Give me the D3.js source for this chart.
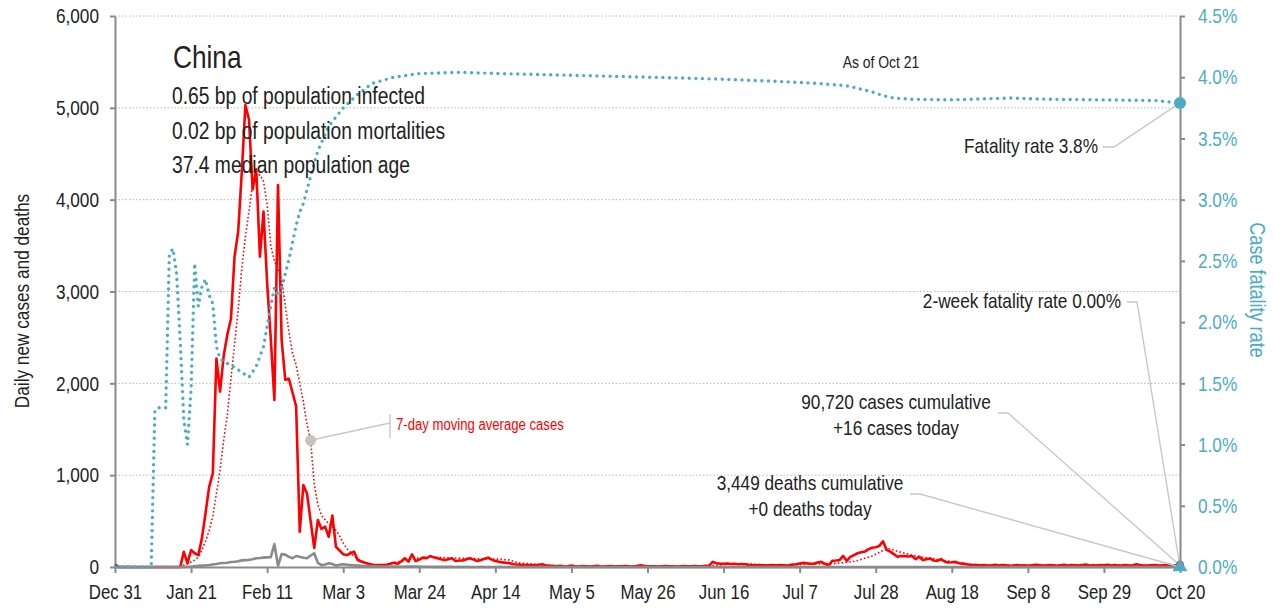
<!DOCTYPE html>
<html>
<head>
<meta charset="utf-8">
<script src="https://cdn.jsdelivr.net/npm/d3@7"></script>
<style>
body { margin: 0; background: #fff; }
svg text { fill: #222; }
</style>
</head>
<body>
<script>
var W = 1274, H = 610;
var margin = {top: 16, right: 94, bottom: 43, left: 115};
var FONT = '"Liberation Sans", Arial, sans-serif';
var NARROW = 0.82; // squeeze glyphs to a narrow face
var blue = "#4bacc6", red = "#ff0000", gray = "#8a8a8a", leaderGray = "#c8c8c8";

// daily new cases, one value per day from Dec 31 (day 0) to Oct 20 (day 294)
var dailyCases = [
  27,0,0,0,0,0,0,0,0,0,
  0,0,0,0,0,0,0,0,0,165,
  40,185,150,130,315,590,875,1020,2270,1910,
  2300,2530,2700,3380,3650,4300,5030,4870,4110,4330,
  3380,3870,3090,2490,1820,4160,2470,2040,2050,1900,
  1750,385,893,800,500,207,512,414,440,330,
  560,220,180,138,130,150,167,76,60,47,
  35,25,20,20,22,25,35,47,35,60,
  95,58,138,65,80,102,95,120,105,95,
  85,76,85,95,65,70,70,85,95,80,
  65,75,90,102,80,65,58,50,47,40,
  30,28,25,22,20,20,18,25,30,15,
  12,10,8,12,6,9,15,7,5,10,
  8,6,9,12,7,5,8,10,6,9,
  7,11,8,6,10,18,12,8,7,9,
  6,8,10,7,9,6,8,11,7,8,
  10,7,9,12,15,56,40,37,35,38,
  33,35,30,32,30,22,20,18,20,19,
  17,20,18,19,21,17,19,26,30,38,
  45,40,35,37,48,56,35,19,67,70,
  75,120,67,110,130,150,160,168,195,210,
  216,230,280,187,168,140,112,120,118,115,
  120,86,112,75,85,93,70,67,86,60,
  49,52,56,40,37,30,25,22,20,18,
  22,16,19,25,15,20,18,14,17,22,
  16,19,12,18,25,20,15,17,21,18,
  14,19,23,16,20,18,15,22,28,17,
  19,16,21,18,24,15,20,17,19,22,
  16,18,30,20,17,15,19,21,18,16,
  20,25,17,19,16
];

// daily new deaths, same days
var dailyDeaths = [
  0,0,0,0,0,0,0,0,0,0,
  0,0,0,0,0,0,0,0,0,0,
  2,4,8,12,15,18,22,28,33,40,
  43,46,55,58,63,72,75,78,85,95,
  98,102,105,108,250,12,140,135,110,95,
  120,112,100,95,125,150,45,20,28,40,
  32,15,25,30,25,20,18,15,12,10,
  10,8,8,6,5,4,6,5,5,3,
  4,4,6,5,4,3,2,2,1,1,
  2,1,1,1,0,1,0,1,0,0,
  0,1,0,0,0,0,1,0,0,0,
  0,0,0,0,0,0,0,0,0,0,
  0,0,0,0,0,0,0,0,0,0,
  0,0,0,0,0,0,0,0,0,0,
  0,0,0,0,0,0,0,0,0,0,
  0,0,0,0,0,0,0,0,0,0,
  0,0,0,0,0,0,0,0,0,0,
  0,0,0,0,0,0,0,0,0,0,
  0,0,0,0,0,0,0,0,0,0,
  0,0,0,0,0,0,0,0,0,0,
  0,0,0,0,0,0,0,0,0,0,
  0,0,0,0,0,0,0,0,0,0,
  0,0,0,0,0,0,0,0,0,0,
  0,0,0,0,0,0,0,0,0,0,
  0,0,0,0,0,0,0,0,0,0,
  0,0,0,0,0,0,0,0,0,0,
  0,0,0,0,0,0,0,0,0,0,
  0,0,0,0,0,0,0,0,0,0,
  0,0,0,0,0,0,0,0,0,0,
  0,0,0,0,0
];

// 7-day moving average of cases, read at these day offsets
var maDays = [0,6,7,18,19,20,21,22,23,24,25,26,27,28,29,30,31,32,33,34,35,36,37,38,39,40,41,42,43,44,45,46,47,48,49,50,
  51,52,53,54,55,56,57,58,59,60,61,62,63,64,65,66,67,68,69,70,72,75,78,81,84,87,92,97,101,106,109,111,115,120,124,
  164,165,170,175,180,186,190,198,203,205,209,212,214,216,220,223,226,229,232,236,242,294];
var maValues = [4,4,0,0,20,35,55,75,110,185,280,400,550,800,1050,1380,1650,2050,2420,2800,3250,3600,3880,4180,4250,4270,4200,3950,3500,3330,3250,3120,2850,2560,2330,2200,
  2000,1800,1550,1380,900,680,560,515,470,440,400,340,260,200,160,115,90,65,42,35,22,30,55,84,100,110,100,95,90,85,76,47,33,20,10,
  10,15,32,33,22,20,30,35,55,70,120,180,200,170,130,105,90,70,50,30,18,18];

// case fatality rate (%), read at these day offsets
var cfrDays = [0,10,11,12,14,15,16,17,18,19,20,21,22,23,24,25,26,27,28,29,30,33,37,39,41,43,44,45,46,48,50,51,52,54,56,59,63,67,71,77,84,95,106,134,161,180,194,202,205,209,212,215,220,230,247,258,272,287,294];
var cfrValues = [0,0,1.28,1.30,1.30,2.55,2.60,2.40,1.85,1.20,1.00,1.45,2.48,2.13,2.29,2.35,2.22,2.15,1.80,1.70,1.68,1.63,1.55,1.64,1.80,2.13,2.28,2.21,2.28,2.51,2.79,2.90,2.97,3.19,3.40,3.60,3.75,3.86,3.95,4.00,4.03,4.04,4.03,4.01,3.99,3.97,3.95,3.93,3.91,3.88,3.85,3.83,3.82,3.815,3.83,3.82,3.815,3.81,3.79];

var leftTicks = [0, 1000, 2000, 3000, 4000, 5000, 6000];
var rightTicks = [0, 0.5, 1.0, 1.5, 2.0, 2.5, 3.0, 3.5, 4.0, 4.5];
var xTickLabels = ["Dec 31","Jan 21","Feb 11","Mar 3","Mar 24","Apr 14","May 5","May 26","Jun 16","Jul 7","Jul 28","Aug 18","Sep 8","Sep 29","Oct 20"];

var countryName = "China";
var statLines = ["0.65 bp of population infected", "0.02 bp of population mortalities", "37.4 median population age"];
var asOfText = "As of Oct 21";
var cumulativeCases = 90720, casesToday = 16;
var cumulativeDeaths = 3449, deathsToday = 0;
var twoWeekRate = 0.00;

var startDate = new Date(Date.UTC(2019, 11, 31));
function dayDate(i) { return d3.utcDay.offset(startDate, i); }
var lastDay = dailyCases.length - 1;

var xScale = d3.scaleUtc().domain([startDate, dayDate(lastDay)]).range([margin.left, W - margin.right]);
var yScale = d3.scaleLinear().domain([0, 6000]).range([H - margin.bottom, margin.top]);
var cfrScale = d3.scaleLinear().domain([0, 4.5]).range([H - margin.bottom, margin.top]);

var svg = d3.select("body").append("svg")
    .attr("width", W).attr("height", H)
    .style("font-family", FONT);

// grid
svg.append("g").selectAll("line")
    .data(leftTicks.slice(1))
    .enter().append("line")
    .attr("x1", margin.left).attr("x2", W - margin.right)
    .attr("y1", d => yScale(d)).attr("y2", d => yScale(d))
    .attr("stroke", "#b8b8b8").attr("stroke-width", 1)
    .attr("stroke-dasharray", "1.5,2");

// axes
function styleAxis(g, color, size) {
    g.attr("font-family", FONT).attr("font-size", size);
    g.select(".domain").attr("stroke", gray).attr("stroke-width", 2);
    g.selectAll(".tick line").attr("stroke", gray).attr("stroke-width", 2);
    g.selectAll(".tick text").style("fill", color);
}

var gx = svg.append("g")
    .attr("transform", "translate(0," + (H - margin.bottom) + ")")
    .call(d3.axisBottom(xScale)
        .tickValues(xTickLabels.map((d, i) => dayDate(i * 21)))
        .tickFormat((d, i) => xTickLabels[i])
        .tickSize(6).tickSizeOuter(0).tickPadding(11));
styleAxis(gx, "#222", 20.5);

var gy = svg.append("g")
    .attr("transform", "translate(" + margin.left + ",0)")
    .call(d3.axisLeft(yScale).tickValues(leftTicks).tickFormat(d3.format(","))
        .tickSize(5).tickSizeOuter(0).tickPadding(11));
styleAxis(gy, "#222", 21);

var gr = svg.append("g")
    .attr("transform", "translate(" + (W - margin.right) + ",0)")
    .call(d3.axisRight(cfrScale).tickValues(rightTicks).tickFormat(d => d.toFixed(1) + "%")
        .tickSize(5).tickSizeOuter(0).tickPadding(13));
styleAxis(gr, blue, 21);

svg.append("text")
    .attr("transform", "translate(29," + 301 + ") rotate(-90)")
    .attr("text-anchor", "middle")
    .attr("font-size", 21)
    .text("Daily new cases and deaths");

svg.append("text")
    .attr("transform", "translate(1250,290) rotate(90)")
    .attr("text-anchor", "middle")
    .attr("font-size", 22)
    .style("fill", blue)
    .text("Case fatality rate");

// series
var maLine = d3.line().x(d => xScale(dayDate(d[0]))).y(d => yScale(d[1]));
svg.append("path")
    .datum(d3.zip(maDays, maValues))
    .attr("fill", "none").attr("stroke", red).attr("stroke-width", 1.6)
    .attr("stroke-dasharray", "1.6,2.2")
    .attr("d", maLine);

var dailyLine = d3.line().x((d, i) => xScale(dayDate(i))).y(d => yScale(d));
svg.append("path")
    .datum(dailyCases)
    .attr("fill", "none").attr("stroke", red).attr("stroke-width", 2.6)
    .attr("stroke-linejoin", "round")
    .attr("d", dailyLine);

svg.append("path")
    .datum(dailyDeaths)
    .attr("fill", "none").attr("stroke", gray).attr("stroke-width", 2.6)
    .attr("stroke-linejoin", "round")
    .attr("d", dailyLine);

var cfrLine = d3.line().x(d => xScale(dayDate(d[0]))).y(d => cfrScale(d[1]));
svg.append("path")
    .datum(d3.zip(cfrDays, cfrValues))
    .attr("fill", "none").attr("stroke", blue).attr("stroke-width", 3.4)
    .attr("stroke-linecap", "round")
    .attr("stroke-dasharray", "0,6.6")
    .attr("d", cfrLine);

// title block
svg.append("text").attr("x", 173).attr("y", 68).attr("font-size", 32).text(countryName);
svg.append("g").selectAll("text")
    .data(statLines)
    .enter().append("text")
    .attr("x", 172).attr("y", (d, i) => 104 + i * 34.5)
    .attr("font-size", 23.5)
    .text(d => d);

svg.append("text").attr("x", 881).attr("y", 68)
    .attr("text-anchor", "middle").attr("font-size", 17).text(asOfText);

// annotations
var xEnd = xScale(dayDate(lastDay));
var yEndCfr = cfrScale(cfrValues[cfrValues.length - 1]);
var fmt = d3.format(",");

function leader(points) {
    svg.append("path")
        .attr("d", d3.line()(points))
        .attr("fill", "none").attr("stroke", leaderGray).attr("stroke-width", 1.4);
}

// 7-day label
var maIdx = maDays.indexOf(54);
var maPt = [xScale(dayDate(54)), yScale(maValues[maIdx])];
leader([maPt, [390, 423]]);
leader([[390, 414], [390, 438]]);
svg.append("circle").attr("cx", maPt[0]).attr("cy", maPt[1]).attr("r", 5.5).attr("fill", "#c4c4c4");
svg.append("text").attr("x", 396).attr("y", 430).attr("font-size", 16)
    .style("fill", red).text("7-day moving average cases");

// fatality rate
leader([[1103, 147], [1114, 147], [xEnd, yEndCfr]]);
svg.append("text").attr("x", 1098).attr("y", 153).attr("text-anchor", "end")
    .attr("font-size", 21).text("Fatality rate " + cfrValues[cfrValues.length - 1].toFixed(1) + "%");

// 2-week rate
leader([[1127, 302], [1137, 302], [xEnd, cfrScale(twoWeekRate)]]);
svg.append("text").attr("x", 1121).attr("y", 308).attr("text-anchor", "end")
    .attr("font-size", 21).text("2-week fatality rate " + twoWeekRate.toFixed(2) + "%");

// cases cumulative
leader([[998, 413], [1008, 413], [xEnd, yScale(dailyCases[lastDay])]]);
svg.append("text").attr("x", 896).attr("y", 409).attr("text-anchor", "middle")
    .attr("font-size", 21).text(fmt(cumulativeCases) + " cases cumulative");
svg.append("text").attr("x", 896).attr("y", 435).attr("text-anchor", "middle")
    .attr("font-size", 21).text("+" + casesToday + " cases today");

// deaths cumulative
leader([[910, 494], [920, 494], [xEnd, yScale(dailyDeaths[lastDay])]]);
svg.append("text").attr("x", 810).attr("y", 490).attr("text-anchor", "middle")
    .attr("font-size", 21).text(fmt(cumulativeDeaths) + " deaths cumulative");
svg.append("text").attr("x", 810).attr("y", 516).attr("text-anchor", "middle")
    .attr("font-size", 21).text("+" + deathsToday + " deaths today");

// end markers
svg.append("circle").attr("cx", xEnd).attr("cy", yScale(dailyCases[lastDay]) - 1)
    .attr("r", 3.8).attr("fill", red);
svg.append("path")
    .attr("d", d3.symbol(d3.symbolTriangle, 95)())
    .attr("transform", "translate(" + xEnd + "," + cfrScale(twoWeekRate) + ")")
    .attr("fill", blue);
svg.append("circle").attr("cx", xEnd).attr("cy", yEndCfr).attr("r", 6).attr("fill", blue);

// condense every label, no narrow face is installed
svg.selectAll("text").each(function() {
    var len = this.getComputedTextLength();
    d3.select(this).attr("textLength", len * NARROW).attr("lengthAdjust", "spacingAndGlyphs");
});
</script>
</body>
</html>
